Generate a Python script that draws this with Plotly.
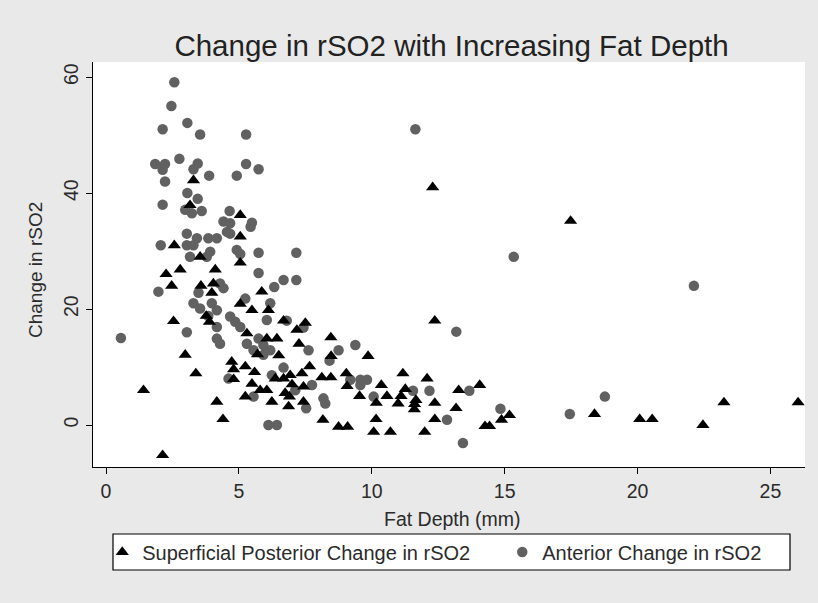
import plotly.graph_objects as go

# Superficial posterior change in rSO2 vs fat depth (mm)
post_depth = [1.41, 2.13, 2.26, 2.47, 2.54, 2.57, 2.79, 2.98, 3.16, 3.29, 3.38, 3.54,
              3.57, 3.77, 3.89, 3.98, 4.04, 4.11, 4.17, 4.40, 4.73, 4.80, 4.80, 5.05,
              5.05, 5.05, 5.05, 5.24, 5.24, 5.30, 5.49, 5.49, 5.59, 5.70, 5.80, 5.86,
              6.05, 6.05, 6.11, 6.24, 6.37, 6.43, 6.50, 6.68, 6.68, 6.74, 6.87, 6.90,
              6.93, 7.00, 7.18, 7.26, 7.37, 7.43, 7.43, 7.50, 7.66, 8.12, 8.16, 8.46,
              8.46, 8.47, 8.75, 9.04, 9.07, 9.09, 9.54, 9.86, 10.07, 10.16, 10.17, 10.36,
              10.57, 10.70, 10.99, 11.10, 11.17, 11.26, 11.60, 11.61, 11.66, 11.99, 12.08,
              12.29, 12.37, 12.37, 12.37, 13.17, 13.27, 14.06, 14.26, 14.43, 14.88, 15.18,
              17.48, 18.38, 20.08, 20.55, 22.46, 23.25, 26.04]
post_change = [6.0, -5.2, 26.0, 24.0, 17.9, 31.0, 26.8, 12.1, 37.9, 42.2, 8.9, 29.0,
               24.0, 18.8, 17.8, 22.8, 24.4, 26.8, 4.0, 1.0, 10.9, 9.6, 7.9, 36.2,
               32.5, 28.0, 20.9, 10.1, 4.9, 15.8, 19.8, 7.1, 9.1, 12.2, 6.0, 23.0,
               14.9, 6.0, 19.8, 4.0, 8.0, 14.9, 12.0, 18.0, 8.0, 5.5, 3.2, 4.9,
               8.6, 7.0, 16.4, 14.0, 8.9, 4.0, 6.6, 17.6, 10.1, 8.2, 0.9, 15.1,
               8.2, 11.9, -0.3, 8.9, 6.7, -0.3, 5.0, 11.9, -1.2, 1.0, 3.8, 6.9,
               5.0, -1.2, 3.7, 5.0, 8.9, 6.2, 2.7, 3.6, 4.3, -1.2, 8.0,
               41.0, 18.0, 3.8, 1.0, 2.9, 6.0, 6.9, -0.2, -0.2, 0.9, 1.7,
               35.2, 1.9, 1.0, 1.0, 0.0, 3.9, 3.9]

# Anterior change in rSO2 vs fat depth (mm)
ant_depth = [0.56, 1.85, 1.97, 2.06, 2.13, 2.13, 2.13, 2.22, 2.22, 2.46, 2.57, 2.76,
             2.98, 3.04, 3.04, 3.04, 3.06, 3.06, 3.16, 3.23, 3.29, 3.29, 3.29, 3.42,
             3.45, 3.45, 3.48, 3.54, 3.54, 3.60, 3.79, 3.85, 3.85, 3.88, 3.92, 3.98,
             4.17, 4.17, 4.17, 4.17, 4.29, 4.29, 4.42, 4.42, 4.55, 4.61, 4.65, 4.67,
             4.67, 4.67, 4.86, 4.92, 4.92, 5.05, 5.05, 5.24, 5.27, 5.27, 5.30, 5.44,
             5.49, 5.55, 5.55, 5.74, 5.74, 5.74, 5.74, 5.92, 5.92, 6.05, 6.11, 6.18,
             6.18, 6.24, 6.33, 6.43, 6.68, 6.68, 6.80, 7.12, 7.16, 7.16, 7.43, 7.53,
             7.62, 7.75, 8.18, 8.25, 8.41, 8.75, 9.19, 9.38, 9.57, 9.57, 9.82, 10.07,
             11.55, 11.64, 12.17, 12.83, 13.18, 13.43, 13.67, 14.84, 15.34, 17.45,
             18.77, 22.12]
ant_change = [15.0, 45.0, 23.0, 31.0, 51.0, 44.0, 38.0, 45.0, 42.0, 55.0, 59.1, 45.9,
              37.1, 33.0, 31.0, 16.0, 52.1, 40.0, 29.0, 36.5, 44.1, 31.0, 21.0, 32.2,
              45.1, 39.0, 22.8, 50.1, 20.1, 36.9, 29.0, 32.2, 18.8, 43.0, 29.9, 21.0,
              32.2, 19.8, 16.9, 14.9, 24.4, 14.0, 35.1, 23.6, 33.3, 8.0, 36.9, 34.8,
              33.0, 18.7, 17.8, 43.0, 30.2, 29.5, 16.9, 21.8, 50.1, 45.0, 14.0, 34.2,
              34.9, 12.9, 4.9, 44.1, 29.7, 26.2, 14.9, 13.8, 12.1, 18.1, 0.0, 21.0,
              12.9, 8.6, 23.8, 0.0, 25.0, 9.9, 18.0, 6.0, 29.7, 25.0, 16.8, 2.9,
              12.9, 6.9, 4.6, 3.7, 11.1, 12.9, 7.8, 13.8, 7.8, 6.9, 7.8, 4.9,
              5.9, 51.0, 5.9, 0.9, 16.1, -3.1, 5.9, 2.8, 29.0, 1.9,
              4.9, 24.0]

x_ticks = [0, 5, 10, 15, 20, 25]
y_ticks = [0, 20, 40, 60]

FONT = "Liberation Sans, Arial, sans-serif"
INK = "#2b2b2b"

fig = go.Figure()

fig.add_trace(go.Scatter(
    x=ant_depth, y=ant_change, mode="markers",
    name="Anterior Change in rSO2",
    marker=dict(symbol="circle", size=10.5, color="#616161", line=dict(width=0)),
    legendrank=2, legendwidth=230,
))
fig.add_trace(go.Scatter(
    x=post_depth, y=post_change, mode="markers",
    name="Superficial Posterior Change in rSO2",
    marker=dict(symbol="triangle-up", size=11.5, color="#000000", line=dict(width=0)),
    legendrank=1, legendwidth=355,
))

fig.update_layout(
    width=818, height=603,
    margin=dict(l=93, r=13, t=62, b=136),
    paper_bgcolor="#e9e9e9",
    plot_bgcolor="#ffffff",
    font=dict(family=FONT, color=INK, size=19),
    title=dict(text="Change in rSO2 with Increasing Fat Depth",
               x=0.552, xanchor="center", y=0.925, yanchor="middle",
               font=dict(family=FONT, size=29.5, color="#222222")),
    showlegend=True,
    legend=dict(orientation="h", x=0.013, xanchor="left", y=-0.21, yanchor="middle",
                bgcolor="rgba(0,0,0,0)", borderwidth=0,
                font=dict(family=FONT, size=20, color=INK),
                itemclick=False, itemdoubleclick=False),
    shapes=[
        dict(type="rect", xref="paper", yref="paper",
             x0=20 / 712, x1=697 / 712, y0=-103 / 405, y1=-67 / 405,
             line=dict(color="#000000", width=1.2), fillcolor="#ffffff", layer="below"),
    ],
    annotations=[
        dict(text="Fat Depth (mm)", xref="paper", yref="paper",
             x=(452 - 93) / 712, y=(467 - 519) / 405, xanchor="center", yanchor="middle",
             showarrow=False, font=dict(family=FONT, size=19.5, color=INK)),
        dict(text="Change in rSO2", xref="paper", yref="paper",
             x=(35 - 93) / 712, y=(467 - 270) / 405, xanchor="center", yanchor="middle",
             textangle=-90, showarrow=False, font=dict(family=FONT, size=19, color=INK)),
    ],
)

fig.update_xaxes(range=[-0.49, 26.3], tickvals=x_ticks, ticks="outside", ticklen=6,
                 tickcolor="#000000", showline=True, linecolor="#000000", linewidth=1.2,
                 showgrid=False, zeroline=False, tickfont=dict(size=19.5, color=INK))
fig.update_yaxes(range=[-7.24, 62.6], tickvals=y_ticks, ticks="outside", ticklen=6,
                 tickcolor="#000000", showline=True, linecolor="#000000", linewidth=1.2,
                 showgrid=False, zeroline=False, tickangle=-90,
                 tickfont=dict(size=19.5, color=INK))

fig.write_html("out.html")
